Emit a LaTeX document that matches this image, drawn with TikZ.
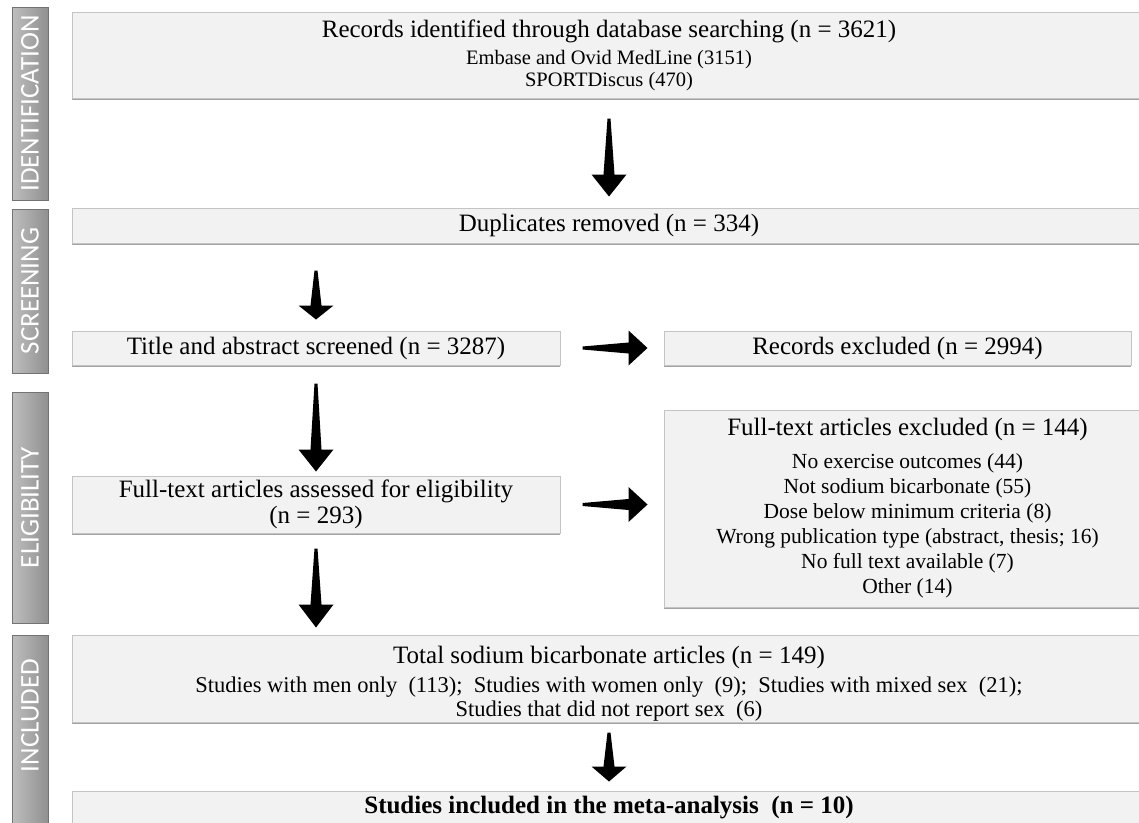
\documentclass[tikz,border=0pt]{standalone}
\usepackage{fontspec}
\setmainfont{Liberation Serif}
\newfontfamily\stagefam{Carlito}
\usetikzlibrary{positioning,calc,shadows}

\definecolor{boxfill}{RGB}{242,242,242}
\definecolor{boxline}{RGB}{196,196,196}
\definecolor{stagelight}{RGB}{190,190,190}
\definecolor{stagedark}{RGB}{144,144,144}
\definecolor{stageline}{RGB}{115,115,115}

\newcommand{\boxhead}{\fontsize{25}{26}\selectfont}
\newcommand{\boxsub}[1]{\fontsize{#1}{22}\selectfont}
\newcommand{\stagefont}{\stagefam\fontsize{27}{30}\selectfont}

% tapered block arrow between two points, with gaps at both ends
\tikzset{
  gap a/.store in=\gapa, gap b/.store in=\gapb, head/.store in=\headlen,
  gap a=10pt, gap b=10pt, head=20pt,
  fatarrow/.style={to path={
       ($(\tikztostart)!\gapa!(\tikztotarget)!1.5pt!90:(\tikztotarget)$)
    -- ($(\tikztotarget)!{\gapb+\headlen}!(\tikztostart)!5.5pt!90:(\tikztotarget)$)
    -- ($(\tikztotarget)!{\gapb+\headlen}!(\tikztostart)!17.5pt!90:(\tikztotarget)$)
    -- ($(\tikztotarget)!\gapb!(\tikztostart)$)
    -- ($(\tikztotarget)!{\gapb+\headlen}!(\tikztostart)!17.5pt!-90:(\tikztotarget)$)
    -- ($(\tikztotarget)!{\gapb+\headlen}!(\tikztostart)!5.5pt!-90:(\tikztotarget)$)
    -- ($(\tikztostart)!\gapa!(\tikztotarget)!1.5pt!-90:(\tikztotarget)$)
    -- cycle}}
}

\begin{document}
\begin{tikzpicture}[x=1pt,y=-1pt,
    box/.style={draw=boxline, fill=boxfill, line width=1pt, inner sep=0pt,
      align=center, font=\boxhead,
      drop shadow={shadow xshift=0.4pt, shadow yshift=-1.8pt, fill=black!60, opacity=0.6}},
    stage/.style={draw=stageline, left color=stagelight, right color=stagedark,
      minimum width=36pt, inner sep=0pt, text=white, font=\stagefont}]
    \fill[white] (0,0) rectangle (1139,822);
    \useasboundingbox (0,0) rectangle (1139,822);

    % stages on the left
    \node[stage, minimum height=193pt] (sid)  at (30,103.5) {\rotatebox{90}{IDENTIFICATION}};
    \node[stage, minimum height=164pt] (sscr) at (30,291)   {\rotatebox{90}{SCREENING}};
    \node[stage, minimum height=231pt] (selg) at (30,507.5) {\rotatebox{90}{ELIGIBILITY}};
    \node[stage, minimum height=195pt] (sinc) at (30,732.5) {\rotatebox{90}{\hspace*{34pt}INCLUDED}};

    % boxes
    \node[box, font={\boxsub{20.5}}, minimum width=1074pt, minimum height=86pt] (ident) at (609,55)
        {\boxhead Records identified through database searching (n = 3621)\\[5pt]
         Embase and Ovid MedLine (3151)\\ SPORTDiscus (470)};
    \node[box, minimum width=1074pt, minimum height=35pt] (dup) at (609,225.5)
        {Duplicates removed (n = 334)};
    \node[box, minimum width=488pt, minimum height=34pt] (title) at (316,348)
        {Title and abstract screened (n = 3287)};
    \node[box, minimum width=467pt, minimum height=34pt] (recex) [right=103pt of title]
        {Records excluded (n = 2994)};
    \node[box, minimum width=488pt, minimum height=57pt] (assess) at (316,504.5)
        {Full-text articles assessed for eligibility\\ (n = 293)};
    \node[box, font={\boxsub{21.5}}, minimum width=487pt, minimum height=197pt] (ftex) [right=103pt of assess, yshift=-4pt]
        {\boxhead Full-text articles excluded (n = 144)\\[11pt]
         No exercise outcomes (44)\\[3pt] Not sodium bicarbonate (55)\\[3pt]
         Dose below minimum criteria (8)\\[3pt] Wrong publication type (abstract, thesis; 16)\\[3pt]
         No full text available (7)\\[3pt] Other (14)};
    \node[box, font={\boxsub{22.5}}, minimum width=1074pt, minimum height=87pt] (total) at (609,678.5)
        {\rule{0pt}{28pt}\boxhead Total sodium bicarbonate articles (n = 149)\\[7pt]
         Studies with men only\ \ (113);\ \ Studies with women only\ \ (9);\ \ Studies with mixed sex\ \ (21);\\[2pt]
         Studies that did not report sex\ \ (6)};
    \node[box, minimum width=1074pt, minimum height=34pt] (incl) at (609,808)
        {\bfseries Studies included in the meta-analysis\ \ (n = 10)};

    % arrows
    \fill (ident.south) to[fatarrow, gap a=20pt, gap b=11pt, head=22pt] (dup.north);
    \fill (dup.south -| title.north) to[fatarrow, gap a=27pt, gap b=11pt, head=14pt] (title.north);
    \fill (title.south) to[fatarrow, gap a=18pt, gap b=4pt, head=22pt] (assess.north);
    \fill (assess.south) to[fatarrow, gap a=15pt, gap b=7pt, head=23pt] (total.north -| assess.south);
    \fill (title.east) to[fatarrow, gap a=22pt, gap b=16pt, head=19pt] (recex.west);
    \fill (assess.east) to[fatarrow, gap a=22pt, gap b=16pt, head=19pt] (ftex.west |- assess.east);
    \fill (total.south) to[fatarrow, gap a=10pt, gap b=9pt, head=15pt] (incl.north);
\end{tikzpicture}
\end{document}
